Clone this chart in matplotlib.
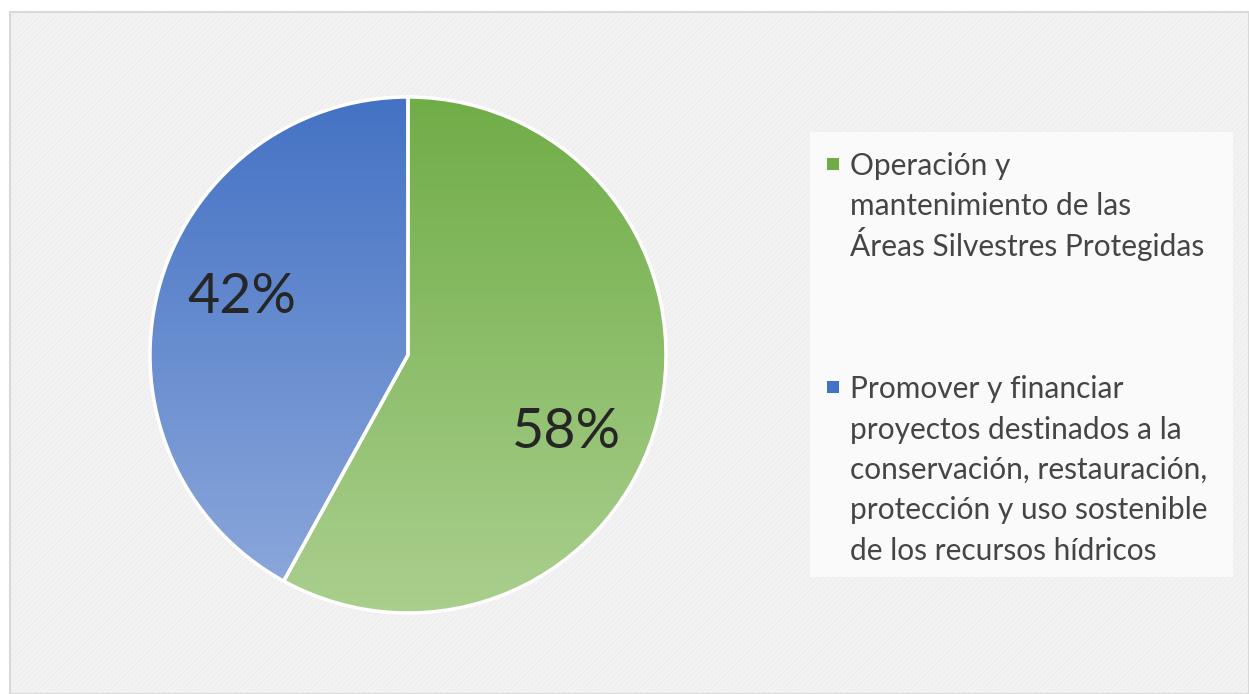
import numpy as np
import matplotlib
matplotlib.use("Agg")
import matplotlib.pyplot as plt
from matplotlib.patches import Rectangle
from matplotlib.colors import LinearSegmentedColormap

labels = ["Operación y\nmantenimiento de las\nÁreas Silvestres Protegidas",
          "Promover y financiar\nproyectos destinados a la\nconservación, restauración,\nprotección y uso sostenible\nde los recursos hídricos"]
values = [58, 42]
pct_text = ["58%", "42%"]
top_cols = ["#70AD47", "#4472C4"]
bot_cols = ["#AACF8E", "#8FAADC"]

plt.rcParams["font.family"] = ["Lato", "DejaVu Sans"]
plt.rcParams["hatch.linewidth"] = 0.4

W, H = 1249, 694
fig = plt.figure(figsize=(W/100, H/100), dpi=100, facecolor="white")

# chart area background (faint hatch + grey border)
fig.patches.append(Rectangle((10/W, 0), 1 - 10/W, (H-12)/H, transform=fig.transFigure,
                             facecolor="#F2F2F2", edgecolor="#EBEBEB", lw=0, hatch="//////",
                             zorder=-3))
fig.patches.append(Rectangle((10/W, 0), 1 - 10/W, (H-12)/H, transform=fig.transFigure,
                             facecolor="none", edgecolor="#D9D9D9", lw=1.5, zorder=-2))
# legend background
fig.patches.append(Rectangle((810/W, (H-577)/H), 423/W, 445/H, transform=fig.transFigure,
                             facecolor="#FAFAFA", edgecolor="none", zorder=-1))

# pie axes: centre (408,355), radius 258 px
cx, cy, r = 408, 355, 258
ax = fig.add_axes([(cx-r)/W, (H-cy-r)/H, 2*r/W, 2*r/H])
ax.set_zorder(1)
wedges, _ = ax.pie(values, startangle=90, counterclock=False, radius=1,
                   wedgeprops=dict(edgecolor="white", linewidth=2))
grad = np.linspace(0, 1, 256).reshape(-1, 1)
for w, c0, c1 in zip(wedges, top_cols, bot_cols):
    cmap = LinearSegmentedColormap.from_list("g", [c0, c1])
    im = ax.imshow(grad, cmap=cmap, extent=(-1, 1, -1, 1), origin="upper",
                   aspect="auto", zorder=2)
    im.set_clip_path(w)
ax.pie(values, startangle=90, counterclock=False, radius=1,
       wedgeprops=dict(facecolor="none", edgecolor="white", linewidth=2.5, zorder=3))
ax.set_xlim(-1.0, 1.0)
ax.set_ylim(-1.0, 1.0)
ax.axis("off")

# percentage labels, placed like Excel's best-fit (angle shift, radius)
mid = 90 - np.cumsum([0] + values[:-1]) * 3.6 - np.array(values) * 1.8
shift = [-11.6, -4.6]
rad = [0.685, 0.68]
for a, s, rr, t in zip(mid, shift, rad, pct_text):
    th = np.radians(a + s)
    ax.text(rr*np.cos(th), rr*np.sin(th), t,
            fontsize=40, color="#262626", ha="center", va="center", zorder=4)

# legend: first baseline of each entry, line pitch 40.5 px
first_base = [175, 398]
pitch = 40.5
for y0, lab, col in zip(first_base, labels, top_cols):
    fig.patches.append(Rectangle((827/W, (H-y0+5)/H), 12/W, 12/H,
                                 transform=fig.transFigure, facecolor=col, edgecolor="none"))
    for i, line in enumerate(lab.split("\n")):
        fig.text(850/W, (H-y0-i*pitch)/H, line, fontsize=21.5, color="#454545",
                 ha="left", va="baseline")

fig.savefig("out.png", dpi=100, facecolor="white")
